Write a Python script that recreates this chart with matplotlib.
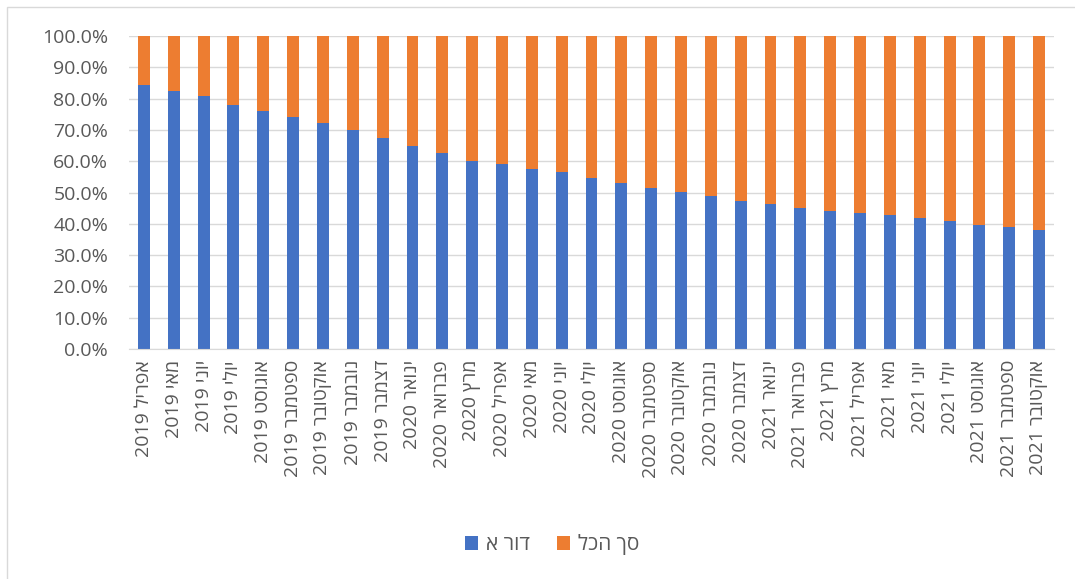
import numpy as np
import matplotlib
matplotlib.use('Agg')
from matplotlib import pyplot as plt
from matplotlib.patches import Rectangle

# months in logical (RTL) Hebrew order
months = ['אפריל', 'מאי', 'יוני', 'יולי', 'אוגוסט', 'ספטמבר', 'אוקטובר', 'נובמבר', 'דצמבר',
          'ינואר', 'פברואר', 'מרץ', 'אפריל', 'מאי', 'יוני', 'יולי', 'אוגוסט', 'ספטמבר',
          'אוקטובר', 'נובמבר', 'דצמבר', 'ינואר', 'פברואר', 'מרץ', 'אפריל', 'מאי', 'יוני',
          'יולי', 'אוגוסט', 'ספטמבר', 'אוקטובר']
years = [2019] * 9 + [2020] * 12 + [2021] * 10

# share of each series (%)
dor_a = [84.5, 82.5, 80.7, 78.1, 75.9, 74.0, 72.3, 69.9, 67.3, 64.9, 62.6,
         60.2, 59.0, 57.4, 56.5, 54.6, 52.9, 51.4, 50.2, 48.8, 47.4, 46.2,
         45.0, 44.1, 43.4, 42.7, 41.8, 40.8, 39.6, 39.0, 38.1]
sach_hakol = [15.5, 17.5, 19.3, 21.9, 24.1, 26.0, 27.7, 30.1, 32.7, 35.1, 37.4,
              39.8, 41.0, 42.6, 43.5, 45.4, 47.1, 48.6, 49.8, 51.2, 52.6, 53.8,
              55.0, 55.9, 56.6, 57.3, 58.2, 59.2, 60.4, 61.0, 61.9]

series_names = ['דור א', 'סך הכל']
colors = ['#4472C4', '#ED7D31']


def visual(s):
    # matplotlib has no bidi: reverse hebrew letters, keep numbers in place
    return s[::-1]


labels = ['%d %s' % (y, visual(m)) for m, y in zip(months, years)]

plt.rcParams['font.family'] = ['Open Sans', 'DejaVu Sans']

fig = plt.figure(figsize=(10.75, 5.79), dpi=100)
ax = fig.add_axes([129 / 1075, 1 - 349 / 579, 925 / 1075, 313 / 579])

x = np.arange(len(dor_a))
ax.bar(x, dor_a, width=0.4, color=colors[0], label=visual(series_names[0]), zorder=2)
ax.bar(x, sach_hakol, width=0.4, bottom=dor_a, color=colors[1],
       label=visual(series_names[1]), zorder=2)

ax.set_xlim(-0.5, len(dor_a) - 0.5)
ax.set_ylim(0, 100)
ax.set_yticks(np.arange(0, 101, 10))
ax.set_yticklabels(['%.1f%%' % v for v in np.arange(0, 101, 10)], fontsize=14, color='#595959')
ax.set_xticks(x)
ax.set_xticklabels(labels, rotation=90, fontsize=14, color='#595959', va='top', ha='center')
ax.tick_params(axis='y', length=0, pad=15)
ax.tick_params(axis='x', length=0, pad=8)
ax.yaxis.grid(True, color='#D9D9D9', linewidth=1, zorder=0)
for s in ['top', 'right', 'left']:
    ax.spines[s].set_visible(False)
ax.spines['bottom'].set_color('#D9D9D9')

fig.legend(loc='center', bbox_to_anchor=(0.514, 0.059), ncol=2, frameon=False,
           fontsize=15, handlelength=0.6, handleheight=0.6, columnspacing=1.3,
           handletextpad=0.4, labelcolor='#595959')

fig.patches.append(Rectangle((7 / 1075, -0.1), 1.2, 1 - 7 / 579 + 0.1,
                             transform=fig.transFigure, fill=False,
                             edgecolor='#D9D9D9', linewidth=1))

plt.savefig('out.png', dpi=100)
